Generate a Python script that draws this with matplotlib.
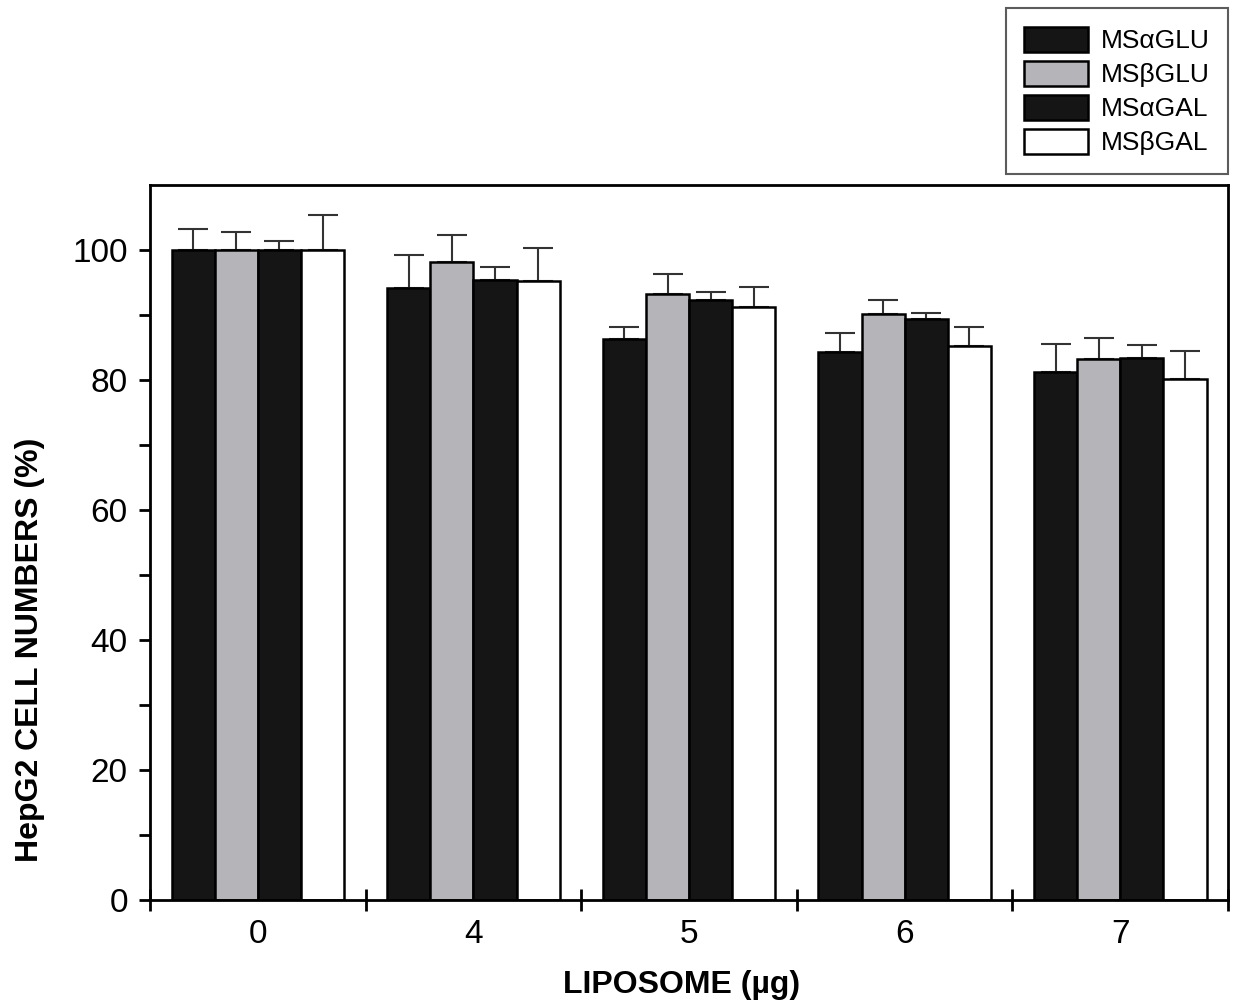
import matplotlib
import matplotlib.pyplot as plt
import numpy as np

matplotlib.use("Agg")

doses = ["0", "4", "5", "6", "7"]
series = ["MS\u03b1GLU", "MS\u03b2GLU", "MS\u03b1GAL", "MS\u03b2GAL"]

ms_a_glu = [100, 94.2, 86.3, 84.3, 81.2]
ms_b_glu = [100, 98.1, 93.2, 90.1, 83.2]
ms_a_gal = [100, 95.3, 92.3, 89.3, 83.3]
ms_b_gal = [100, 95.2, 91.2, 85.2, 80.1]

err_a_glu = [3.2, 5.0, 1.9, 2.9, 4.4]
err_b_glu = [2.8, 4.2, 3.1, 2.2, 3.2]
err_a_gal = [1.3, 2.0, 1.3, 1.0, 2.0]
err_b_gal = [5.3, 5.1, 3.1, 3.0, 4.3]

values = [ms_a_glu, ms_b_glu, ms_a_gal, ms_b_gal]
errors = [err_a_glu, err_b_glu, err_a_gal, err_b_gal]
colors = ["#151515", "#b5b5b9", "#151515", "#ffffff"]

plt.rcParams["font.family"] = ["Liberation Sans", "DejaVu Sans"]

fig = plt.figure(figsize=(12.38, 10.05), dpi=100)
ax = fig.add_axes([0.1212, 0.1045, 0.8708, 0.7115])

x = np.arange(len(doses))
width = 0.2
for i, (vals, errs, col) in enumerate(zip(values, errors, colors)):
    pos = x - 0.3 + i * width
    ax.bar(pos, vals, width, color=col, edgecolor="black", linewidth=1.8,
           label=series[i], zorder=2)
    ax.errorbar(pos, vals, yerr=[np.zeros(len(errs)), errs], fmt="none",
                ecolor="#333333", elinewidth=1.5, capsize=11, capthick=1.5,
                zorder=1)

ax.set_xlim(-0.5, 4.5)
ax.set_ylim(0, 110)
ax.set_yticks([0, 20, 40, 60, 80, 100])
ax.set_yticks(np.arange(10, 110, 20), minor=True)
ax.set_xticks(np.arange(-0.5, 5, 1.0))
ax.set_xticklabels([])
ax.set_xticks(x, minor=True)
ax.set_xticklabels(doses, minor=True)

ax.tick_params(axis="y", which="major", direction="out", length=8, width=2,
               labelsize=24, pad=8)
ax.tick_params(axis="y", which="minor", direction="out", length=8, width=2)
ax.tick_params(axis="x", which="major", direction="inout", length=16, width=2)
ax.tick_params(axis="x", which="minor", length=0, labelsize=24, pad=14)

for sp in ax.spines.values():
    sp.set_linewidth(2)

ax.set_ylabel("HepG2 CELL NUMBERS (%)", fontsize=23, fontweight="bold",
              va="center")
ax.yaxis.set_label_coords(-0.111, 0.35)
ax.set_xlabel("LIPOSOME (\u00b5g)", fontsize=23, fontweight="bold",
              va="center")
ax.xaxis.set_label_coords(0.4926, -0.119)

leg = fig.legend(loc="upper right", bbox_to_anchor=(0.992, 0.992),
                 borderaxespad=0,
                 prop={"family": ["Liberation Sans Narrow", "Liberation Sans",
                                  "DejaVu Sans"], "size": 19},
                 frameon=True, fancybox=False, edgecolor="#333333",
                 handlelength=2.4, handleheight=1.1, labelspacing=0.28,
                 handletextpad=0.5, borderpad=0.7)
leg.get_frame().set_linewidth(1.5)

fig.savefig("out.png", dpi=100)
